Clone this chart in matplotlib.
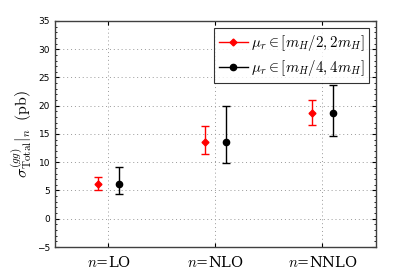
import matplotlib
matplotlib.use("Agg")
import matplotlib.pyplot as plt
from matplotlib.ticker import MultipleLocator
from matplotlib.lines import Line2D

plt.rcParams['mathtext.fontset'] = 'cm'

categories = ["$n$=LO", "$n$=NLO", "$n$=NNLO"]
red_center = [6.1, 13.6, 18.8]
red_low = [5.0, 11.5, 16.6]
red_high = [7.4, 16.4, 21.1]
black_center = [6.1, 13.6, 18.8]
black_low = [4.3, 9.8, 14.7]
black_high = [9.2, 20.0, 23.6]
labels = [r'$\mu_r\in[m_H/2,2m_H]$', r'$\mu_r\in[m_H/4,4m_H]$']

fig = plt.figure(figsize=(4.15, 2.78), dpi=100)
ax = fig.add_axes([0.1325, 0.1115, 0.7735, 0.813])

x = [1, 2, 3]
off = 0.1
xr = [v - off for v in x]
xb = [v + off for v in x]
rerr = [[c - l for c, l in zip(red_center, red_low)], [h - c for c, h in zip(red_center, red_high)]]
berr = [[c - l for c, l in zip(black_center, black_low)], [h - c for c, h in zip(black_center, black_high)]]

ax.errorbar(xr, red_center, yerr=rerr, fmt='D', color='red', ecolor='red', markersize=3.5,
            capsize=3, elinewidth=1, capthick=1)
ax.errorbar(xb, black_center, yerr=berr, fmt='o', color='black', ecolor='black', markersize=4.5,
            capsize=3, elinewidth=1, capthick=1)

ax.set_xlim(0.5, 3.5)
ax.set_ylim(-5, 35)
ax.set_xticks(x)
ax.set_xticklabels(categories, fontsize=10.5, fontfamily='DejaVu Serif')
for t in ax.get_xticklabels():
    t.set_math_fontfamily('cm')
ax.yaxis.set_major_locator(MultipleLocator(5))
ax.yaxis.set_minor_locator(MultipleLocator(1))
ax.tick_params(axis='y', labelsize=6.5, direction='in', right=True, length=3)
ax.tick_params(axis='y', which='minor', direction='in', right=True, length=1.5)
ax.tick_params(axis='x', direction='in', top=True, length=3, pad=6)
ax.grid(True, which='major', linestyle=(0, (1, 3)), color='#999999', linewidth=0.7)
for s in ax.spines.values():
    s.set_color('#404040')
    s.set_linewidth(1.0)

ax.set_ylabel(r'$\sigma^{(gg)}_{\rm Total}|_n\;\;{\rm (pb)}$', fontsize=11.5, labelpad=2)

handles = [Line2D([], [], color='red', marker='D', markersize=3.5, linewidth=1),
           Line2D([], [], color='black', marker='o', markersize=4.5, linewidth=1)]
leg = ax.legend(handles, labels, loc='upper right', fontsize=10.8, frameon=True, fancybox=False,
                edgecolor='black', handlelength=1.9, borderpad=0.35, labelspacing=0.35,
                handletextpad=0.2, borderaxespad=0.45)
leg.get_frame().set_linewidth(0.8)

fig.savefig('out.png', dpi=100)
